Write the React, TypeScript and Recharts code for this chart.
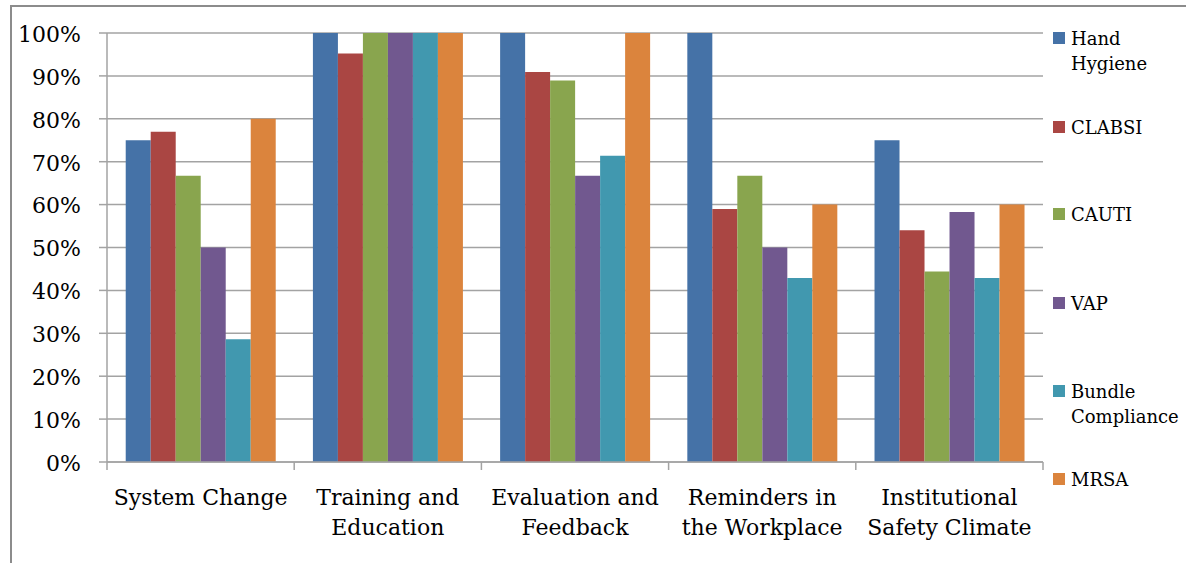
import { BarChart, Bar, XAxis, YAxis, CartesianGrid } from 'recharts'

const categories = [
  'System Change',
  'Training and Education',
  'Evaluation and Feedback',
  'Reminders in the Workplace',
  'Institutional Safety Climate',
]

const seriesNames = ['Hand Hygiene', 'CLABSI', 'CAUTI', 'VAP', 'Bundle Compliance', 'MRSA']

const handHygiene = [0.75, 1, 1, 1, 0.75]
const clabsi = [0.77, 0.952, 0.909, 0.59, 0.54]
const cauti = [0.667, 1, 0.889, 0.667, 0.444]
const vap = [0.5, 1, 0.667, 0.5, 0.583]
const bundle = [0.286, 1, 0.714, 0.429, 0.429]
const mrsa = [0.8, 1, 1, 0.6, 0.6]

const yTicks = [0, 0.1, 0.2, 0.3, 0.4, 0.5, 0.6, 0.7, 0.8, 0.9, 1]

const colors = ['#4572A7', '#AA4643', '#89A54E', '#71588F', '#4198AF', '#DB843D']
const keys = ['hh', 'clabsi', 'cauti', 'vap', 'bundle', 'mrsa']

const data = categories.map((name, i) => ({
  name,
  hh: handHygiene[i],
  clabsi: clabsi[i],
  cauti: cauti[i],
  vap: vap[i],
  bundle: bundle[i],
  mrsa: mrsa[i],
}))

const FONT = '"DejaVu Serif", serif'
const GRID = '#a3a3a3'

// greedy word wrap, ~14 chars per line
function wrap(label: string, max = 14) {
  const lines: string[] = []
  let cur = ''
  for (const w of label.split(' ')) {
    const next = cur ? cur + ' ' + w : w
    if (next.length > max && cur) {
      lines.push(cur)
      cur = w
    } else {
      cur = next
    }
  }
  if (cur) lines.push(cur)
  return lines
}

function CategoryTick(props: any) {
  const { x, y, payload, width, visibleTicksCount, index } = props
  const half = payload.offset ?? width / visibleTicksCount / 2
  const lines = wrap(payload.value)
  return (
    <g>
      <line x1={x - half} x2={x - half} y1={y - 8} y2={y} stroke={GRID} strokeWidth={1.5} />
      {index === visibleTicksCount - 1 && (
        <line x1={x + half} x2={x + half} y1={y - 8} y2={y} stroke={GRID} strokeWidth={1.5} />
      )}
      <text x={x} y={y + 35} textAnchor="middle" fontFamily={FONT} fontSize={22} fill="#000">
        {lines.map((l, i) => (
          <tspan key={i} x={x} dy={i === 0 ? 0 : 30}>
            {l}
          </tspan>
        ))}
      </text>
    </g>
  )
}

// legend item vertical positions (center of first line)
const legendTops = [38, 127, 214, 303, 391, 479]

function LegendBox() {
  return (
    <div style={{ position: 'absolute', left: 1053, top: 0, width: 140, height: 520 }}>
      {seriesNames.map((s, i) => {
        const parts = s.split(' ')
        return (
          <div
            key={s}
            style={{
              position: 'absolute',
              left: 0,
              top: legendTops[i] - 12,
              display: 'flex',
              alignItems: 'flex-start',
              fontFamily: FONT,
              fontSize: 18,
              lineHeight: '25px',
              color: '#000',
              whiteSpace: 'nowrap',
            }}
          >
            <div style={{ width: 12, height: 12, background: colors[i], marginTop: 6, marginRight: 6 }} />
            <div>
              {parts.map((p, j) => (
                <div key={j}>{p}</div>
              ))}
            </div>
          </div>
        )
      })}
    </div>
  )
}

export default function App() {
  return (
    <div style={{ position: 'absolute', left: 0, top: 0, width: 1186, height: 563, overflow: 'hidden', background: '#fff' }}>
      <div
        style={{
          position: 'absolute',
          left: 10,
          top: 5,
          width: 1300,
          height: 700,
          border: '2px solid #8c8c8c',
        }}
      />
      <BarChart
        width={1186}
        height={563}
        data={data}
        margin={{ top: 33, right: 143, left: 0, bottom: 41 }}
        barCategoryGap="10%"
        barGap={0}
        style={{ position: 'absolute', left: 0, top: 0 }}
      >
        <CartesianGrid vertical={false} stroke={GRID} strokeWidth={1.5} />
        <XAxis
          dataKey="name"
          height={60}
          tickSize={8}
          tickMargin={0}
          tickLine={false}
          axisLine={{ stroke: GRID, strokeWidth: 1.5 }}
          tick={<CategoryTick />}
          interval={0}
        />
        <YAxis
          width={107}
          domain={[0, 1]}
          ticks={yTicks}
          tickFormatter={(v: number) => `${Math.round(v * 100)}%`}
          tickSize={8}
          tickMargin={18}
          axisLine={{ stroke: GRID, strokeWidth: 1.5 }}
          tickLine={{ stroke: GRID, strokeWidth: 1.5 }}
          tick={{ fill: '#000', fontFamily: FONT, fontSize: 22, dy: 1 }}
        />
        {keys.map((k, i) => (
          <Bar key={k} dataKey={k} name={seriesNames[i]} fill={colors[i]} isAnimationActive={false} />
        ))}
      </BarChart>
      <LegendBox />
    </div>
  )
}
